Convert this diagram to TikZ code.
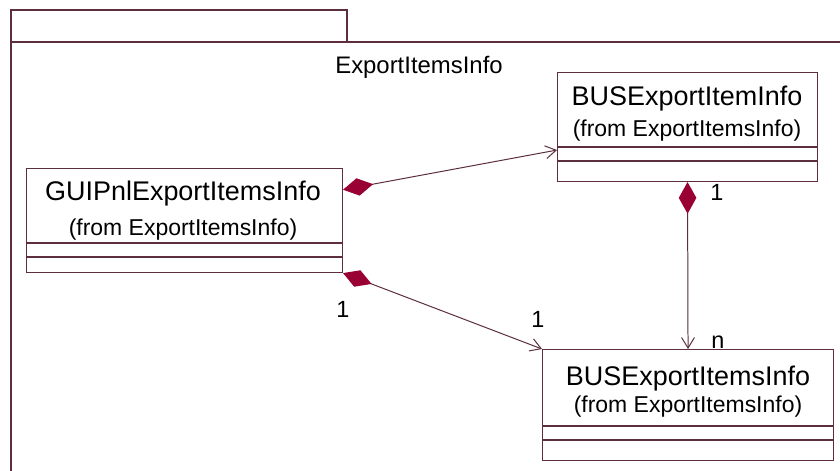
\documentclass[tikz,border=0pt]{standalone}
\usepackage{fontspec}
\setmainfont{Liberation Sans}
\usetikzlibrary{calc,arrows.meta}
\definecolor{edge}{HTML}{5C2E40}
\definecolor{comp}{HTML}{990033}
\tikzset{
  pkgline/.style={draw=edge, line width=1.3pt},
  classbox/.style={draw=edge, fill=white, line width=0.9pt, inner sep=0pt, anchor=north west},
  sepline/.style={draw=edge, line width=0.9pt},
  assoc/.style={draw=edge, line width=0.85pt,
    {Diamond[color=comp, fill=comp, length=26pt, width=15pt]}-{Straight Barb[length=9pt, width=11pt]}},
  clsname/.style={font=\fontsize{23}{27}\selectfont, anchor=base, inner sep=0pt},
  fromtxt/.style={font=\fontsize{19.6}{23}\selectfont, anchor=base, inner sep=0pt},
  mult/.style={font=\fontsize{20}{24}\selectfont, anchor=base, inner sep=0pt},
}

\begin{document}
\begin{tikzpicture}[x=0.03cm, y=-0.03cm]
  \useasboundingbox (0,0) rectangle (840,470);
  \fill[white] (0,0) rectangle (840,470);

  % package frame
  \draw[pkgline] (11,42) rectangle (347,10);
  \draw[pkgline] (11,480) -- (11,42) -- (850,42);
  \node[clsname, font=\fontsize{20.4}{24}\selectfont] (pkg) at (419,73) {ExportItemsInfo};

  % classes
  \node[classbox, minimum width=9.48cm, minimum height=3.12cm] (gui) at (26,168) {};
  \node[classbox, minimum width=7.8cm, minimum height=3.27cm] (item) at (557,72) {};
  \node[classbox, minimum width=8.73cm, minimum height=3.33cm] (items) at (542,349) {};

  \draw[sepline] ($(gui.north west)+(0,75)$) -- ($(gui.north east)+(0,75)$);
  \draw[sepline] ($(gui.north west)+(0,89)$) -- ($(gui.north east)+(0,89)$);
  \draw[sepline] ($(item.north west)+(0,75)$) -- ($(item.north east)+(0,75)$);
  \draw[sepline] ($(item.north west)+(0,89)$) -- ($(item.north east)+(0,89)$);
  \draw[sepline] ($(items.north west)+(0,77)$) -- ($(items.north east)+(0,77)$);
  \draw[sepline] ($(items.north west)+(0,91)$) -- ($(items.north east)+(0,91)$);

  \node[clsname] (guiname) at (183,200) {GUIPnlExportItemsInfo};
  \node[fromtxt] (guifrom) at (183,235) {(from ExportItemsInfo)};
  \node[clsname] (itemname) at (687,105) {BUSExportItemInfo};
  \node[fromtxt] (itemfrom) at (687,136) {(from ExportItemsInfo)};
  \node[clsname] (itemsname) at (688,385) {BUSExportItemsInfo};
  \node[fromtxt] (itemsfrom) at (688,412) {(from ExportItemsInfo)};

  % associations
  \draw[assoc] (gui.11.5) -- (item.190);
  \draw[assoc] (gui.south east) -- (items.north west);
  \draw[assoc, {Diamond[color=comp, fill=comp, length=27pt, width=15pt]}-{Straight Barb[length=9pt, width=11pt]}]
    (item.south) -- (items.north);

  \node[mult] (m1) at (343,317) {1};
  \node[mult] (m2) at (538,327) {1};
  \node[mult] (m3) at (717,200) {1};
  \node[mult] (m4) at (718,348) {n};
\end{tikzpicture}
\end{document}
